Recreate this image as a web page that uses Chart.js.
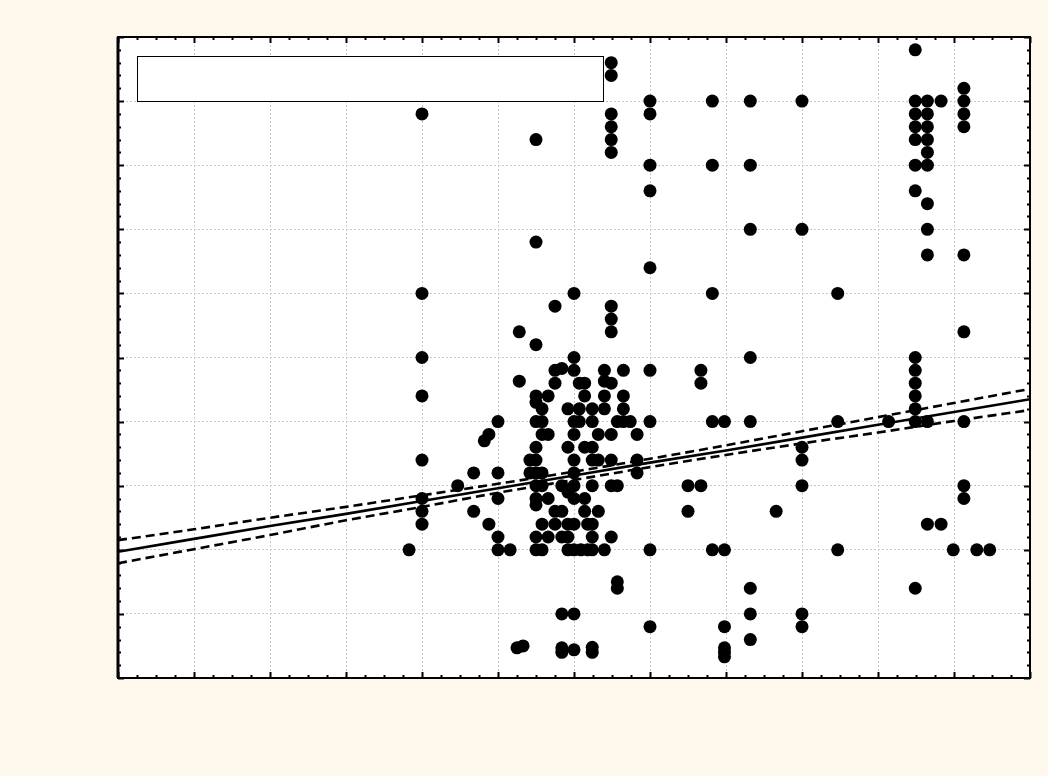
<!DOCTYPE html>
<html>
<head>
<meta charset="utf-8">
<script src="https://cdn.jsdelivr.net/npm/chart.js@4.4.1/dist/chart.umd.min.js"></script>
<style>
  html, body { margin: 0; padding: 0; background: #fff9ed; }
  #wrap { width: 1048px; height: 776px; }
</style>
</head>
<body>
<div id="wrap"><canvas id="chart" width="1048" height="776"></canvas></div>
<script>
// Observations (x, y)
const scatterX = [
  10.49,
  6.49, 6.49,
  11.13,
  7.0, 7.82, 8.32, 9.0, 10.49, 10.65, 10.83, 11.13,
  4.0, 6.49, 7.0, 10.49, 10.65, 11.13,
  6.49, 10.49, 10.65, 11.13,
  5.5, 6.49, 10.49, 10.65,
  6.49, 10.65,
  7.0, 7.82, 8.32, 10.49, 10.65,
  7.0, 10.49,
  10.65,
  8.32, 9.0, 10.65,
  5.5,
  10.65, 11.13,
  7.0,
  4.0, 6.0, 7.82, 9.47,
  5.75, 6.49,
  6.49,
  5.28, 6.49, 11.13,
  5.5,
  4.0, 6.0, 8.32, 10.49,
  5.75, 5.84, 6.0, 6.4, 6.65, 7.0, 7.67, 10.49,
  5.28, 5.75, 6.07, 6.14, 6.4, 6.49, 7.67, 10.49,
  4.0, 5.5, 5.66, 6.14, 6.4, 6.65, 10.49,
  5.5, 5.58, 5.92, 6.07, 6.24, 6.4, 6.65, 10.49,
  5.0, 5.5, 5.58, 6.0, 6.07, 6.24, 6.57, 6.65, 6.74, 7.0, 7.82, 7.98, 8.32, 9.47, 10.14, 10.49, 10.65, 11.13,
  4.88, 4.82, 5.58, 5.66, 6.0, 6.32, 6.49, 6.83,
  5.5, 5.92, 6.14, 6.24, 9.0,
  4.0, 5.42, 5.5, 6.0, 6.24, 6.32, 6.49, 6.83, 9.0,
  4.68, 5.0, 5.42, 5.5, 5.58, 6.0, 6.83,
  4.47, 5.5, 5.58, 5.84, 6.0, 6.24, 6.49, 6.57, 7.5, 7.67, 9.0, 11.13,
  5.92, 4.0, 5.0, 5.5, 5.66, 6.0, 6.14, 11.13,
  5.5,
  4.0, 4.68, 5.75, 5.84, 6.14, 6.32, 7.5, 8.66,
  4.0, 4.88, 5.58, 5.75, 5.92, 6.0, 6.18, 6.24, 10.65, 10.83,
  5.0, 5.5, 5.66, 5.84, 5.92, 6.24, 6.49,
  3.83, 5.0, 5.16, 5.5, 5.58, 5.92, 6.0, 6.09, 6.18, 6.24, 6.4, 7.0, 7.82, 7.98, 9.47, 10.99, 11.3, 11.47,
  6.57, 6.57, 8.32, 10.49,
  5.84, 6.0, 8.32, 9.0,
  7.0, 7.98, 9.0,
  8.32,
  5.25, 5.33, 5.84, 5.84, 6.0, 6.24, 6.24, 7.98, 7.98, 7.98
];
const scatterY = [
  9.8,
  9.6, 9.4,
  9.2,
  9.0, 9.0, 9.0, 9.0, 9.0, 9.0, 9.0, 9.0,
  8.8, 8.8, 8.8, 8.8, 8.8, 8.8,
  8.6, 8.6, 8.6, 8.6,
  8.4, 8.4, 8.4, 8.4,
  8.2, 8.2,
  8.0, 8.0, 8.0, 8.0, 8.0,
  7.6, 7.6,
  7.4,
  7.0, 7.0, 7.0,
  6.8,
  6.6, 6.6,
  6.4,
  6.0, 6.0, 6.0, 6.0,
  5.8, 5.8,
  5.6,
  5.4, 5.4, 5.4,
  5.2,
  5.0, 5.0, 5.0, 5.0,
  4.8, 4.83, 4.8, 4.8, 4.8, 4.8, 4.8, 4.8,
  4.63, 4.6, 4.6, 4.6, 4.63, 4.6, 4.6, 4.6,
  4.4, 4.4, 4.4, 4.4, 4.4, 4.4, 4.4,
  4.3, 4.2, 4.2, 4.2, 4.2, 4.2, 4.2, 4.2,
  4.0, 4.0, 4.0, 4.0, 4.0, 4.0, 4.0, 4.0, 4.0, 4.0, 4.0, 4.0, 4.0, 4.0, 4.0, 4.0, 4.0, 4.0,
  3.8, 3.7, 3.8, 3.8, 3.8, 3.8, 3.8, 3.8,
  3.6, 3.6, 3.6, 3.6, 3.6,
  3.4, 3.4, 3.4, 3.4, 3.4, 3.4, 3.4, 3.4, 3.4,
  3.2, 3.2, 3.2, 3.2, 3.2, 3.2, 3.2,
  3.0, 3.0, 3.0, 3.0, 3.0, 3.0, 3.0, 3.0, 3.0, 3.0, 3.0, 3.0,
  2.9, 2.8, 2.8, 2.8, 2.8, 2.8, 2.8, 2.8,
  2.7,
  2.6, 2.6, 2.6, 2.6, 2.6, 2.6, 2.6, 2.6,
  2.4, 2.4, 2.4, 2.4, 2.4, 2.4, 2.4, 2.4, 2.4, 2.4,
  2.2, 2.2, 2.2, 2.2, 2.2, 2.2, 2.2,
  2.0, 2.0, 2.0, 2.0, 2.0, 2.0, 2.0, 2.0, 2.0, 2.0, 2.0, 2.0, 2.0, 2.0, 2.0, 2.0, 2.0, 2.0,
  1.5, 1.4, 1.4, 1.4,
  1.0, 1.0, 1.0, 1.0,
  0.8, 0.8, 0.8,
  0.6,
  0.47, 0.5, 0.47, 0.4, 0.44, 0.48, 0.4, 0.47, 0.4, 0.33
];

// Fitted line and 95% confidence band, sampled at whole x units
const fitX     = [0, 1, 2, 3, 4, 5, 6, 7, 8, 9, 10, 11, 12];
const fitY     = [1.97, 2.17, 2.37, 2.56, 2.76, 2.96, 3.16, 3.36, 3.55, 3.75, 3.95, 4.15, 4.35];
const bandUpper = [2.15, 2.32, 2.50, 2.67, 2.85, 3.03, 3.22, 3.42, 3.63, 3.85, 4.07, 4.29, 4.51];
const bandLower = [1.79, 2.01, 2.23, 2.46, 2.67, 2.89, 3.09, 3.29, 3.48, 3.66, 3.83, 4.01, 4.18];

const xRange = [0, 12];
const yRange = [0, 10];

const toPoints = (xs, ys) => xs.map((x, i) => ({ x: x, y: ys[i] }));

// White plot area on the cream page
const plotBackground = {
  id: 'plotBackground',
  beforeDraw(chart) {
    const { ctx, chartArea: a } = chart;
    ctx.save();
    ctx.fillStyle = '#fff9ed';
    ctx.fillRect(0, 0, chart.width, chart.height);
    ctx.fillStyle = '#ffffff';
    ctx.fillRect(a.left, a.top, a.right - a.left, a.bottom - a.top);
    ctx.restore();
  }
};

// Frame with inward major/minor tick marks on all four sides, plus the legend box
const frame = {
  id: 'frame',
  afterDraw(chart) {
    const { ctx, chartArea: a, scales } = chart;
    const xs = scales.x, ys = scales.y;
    ctx.save();
    ctx.strokeStyle = '#000';
    ctx.lineWidth = 2;
    ctx.beginPath();
    for (let i = 0; i <= 48; i++) {
      const v = xRange[0] + i * 0.25;
      const px = Math.round(xs.getPixelForValue(v)) + 0.5;
      const len = (i % 4 === 0) ? 6 : 3;
      ctx.moveTo(px, a.bottom); ctx.lineTo(px, a.bottom - len);
      ctx.moveTo(px, a.top); ctx.lineTo(px, a.top + len);
    }
    for (let i = 0; i <= 50; i++) {
      const v = yRange[0] + i * 0.2;
      const py = Math.round(ys.getPixelForValue(v)) + 0.5;
      const len = (i % 5 === 0) ? 6 : 3;
      ctx.moveTo(a.left, py); ctx.lineTo(a.left + len, py);
      ctx.moveTo(a.right, py); ctx.lineTo(a.right - len, py);
    }
    ctx.stroke();

    // border
    ctx.lineWidth = 2;
    ctx.strokeRect(a.left, a.top, a.right - a.left, a.bottom - a.top);
    ctx.lineWidth = 3;
    ctx.beginPath();
    ctx.moveTo(a.left, a.top); ctx.lineTo(a.left, a.bottom);
    ctx.stroke();

    // legend box
    ctx.fillStyle = '#ffffff';
    ctx.lineWidth = 1;
    ctx.fillRect(a.left + 19, a.top + 19, 466, 45);
    ctx.strokeRect(a.left + 19.5, a.top + 19.5, 466, 45);
    ctx.restore();
  }
};

new Chart(document.getElementById('chart'), {
  type: 'scatter',
  data: {
    datasets: [
      {
        type: 'line',
        data: toPoints(fitX, fitY),
        borderColor: '#000',
        borderWidth: 2.6,
        pointRadius: 0,
        fill: false,
        order: 0
      },
      {
        type: 'line',
        data: toPoints(fitX, bandUpper),
        borderColor: '#000',
        borderWidth: 2.6,
        borderDash: [9, 5],
        pointRadius: 0,
        cubicInterpolationMode: 'monotone',
        fill: false,
        order: 0
      },
      {
        type: 'line',
        data: toPoints(fitX, bandLower),
        borderColor: '#000',
        borderWidth: 2.6,
        borderDash: [9, 5],
        pointRadius: 0,
        cubicInterpolationMode: 'monotone',
        fill: false,
        order: 0
      },
      {
        data: toPoints(scatterX, scatterY),
        backgroundColor: '#000',
        borderColor: '#000',
        borderWidth: 0,
        pointRadius: 6.5,
        order: 1
      }
    ]
  },
  options: {
    responsive: false,
    animation: false,
    devicePixelRatio: 1,
    layout: { padding: { left: 118, top: 37, right: 18, bottom: 98 } },
    plugins: { legend: { display: false }, tooltip: { enabled: false } },
    scales: {
      x: {
        type: 'linear',
        min: xRange[0], max: xRange[1],
        ticks: { display: false, stepSize: 1 },
        border: { display: false, dash: [2, 2] },
        grid: { color: '#c8c8c8', lineWidth: 1, drawTicks: false, tickLength: 0 },
        afterBuildTicks: (s) => { s.ticks = fitX.map(v => ({ value: v })); }
      },
      y: {
        type: 'linear',
        min: yRange[0], max: yRange[1],
        ticks: { display: false, stepSize: 1 },
        border: { display: false, dash: [2, 2] },
        grid: { color: '#c8c8c8', lineWidth: 1, drawTicks: false, tickLength: 0 }
      }
    }
  },
  plugins: [plotBackground, frame]
});
</script>
</body>
</html>
